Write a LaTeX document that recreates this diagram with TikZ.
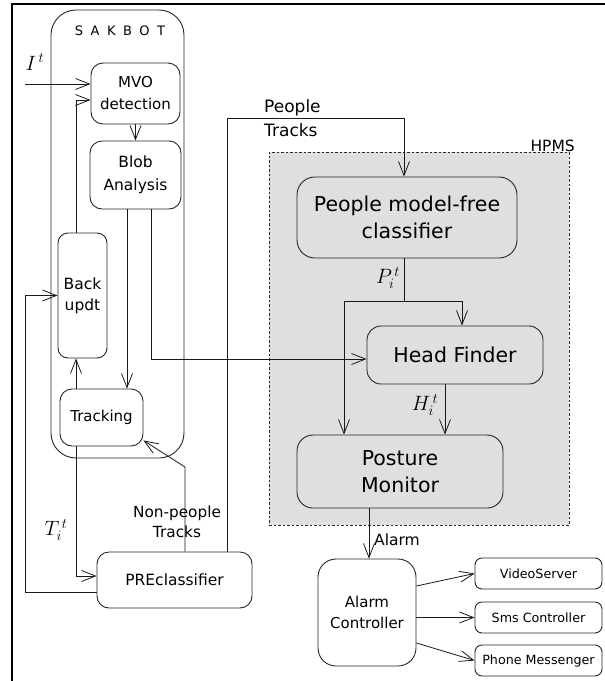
\documentclass[tikz,border=0pt]{standalone}
\usepackage{fontspec}
\setmainfont{DejaVu Sans}
\usetikzlibrary{arrows.meta}
\definecolor{hpgray}{HTML}{DFDFDF}
\tikzset{
  blk/.style={draw=black!85, line width=0.9pt, rounded corners=12pt, align=center,
              inner sep=0pt, fill=white},
  hblk/.style={blk, fill=hpgray, rounded corners=16pt},
  sblk/.style={blk, rounded corners=7pt, minimum width=127, minimum height=31,
               font=\fontsize{12.7}{15}\selectfont},
  wire/.style={line width=0.8pt, draw=black!90},
  arr/.style={wire, -{Straight Barb[length=14pt,width=11pt,line width=0.8pt]}},
  lbl/.style={inner sep=0pt, align=center},
  mlbl/.style={inner sep=0pt, font=\fontsize{20}{20}\selectfont},
  fS/.style={font=\fontsize{15}{22}\selectfont},
  fH/.style={font=\fontsize{20.5}{27}\selectfont},
}
\begin{document}
\begin{tikzpicture}[x=1pt,y=-1pt]
\useasboundingbox (0,0) rectangle (605,681);

% frame (top and left edges)
\draw[line width=2.2pt] (605,4) -- (12,4) -- (12,681);

% group containers
\node[draw=black!85, line width=0.9pt, rounded corners=25pt, minimum width=133,
      minimum height=448, inner sep=0pt] (sakbot) at (117.5,234) {};
\node[lbl, font=\fontsize{13}{13}\selectfont] (sakbotlbl) at (120,31)
  {S\hspace{7.5pt}A\hspace{7.5pt}K\hspace{7.5pt}B\hspace{7.5pt}O\hspace{7.5pt}T};
\node[draw=black!85, dash pattern=on 2.5pt off 2pt, line width=0.8pt, fill=hpgray,
      minimum width=300, minimum height=373, inner sep=0pt] (hpms) at (419,338.5) {};
\node[lbl, anchor=base east, font=\fontsize{15.5}{15.5}\selectfont] (hpmslbl) at (575,151) {HPMS};

% SAKBOT blocks
\node[blk, fS, minimum width=89, minimum height=61] (mvo) at (135.5,93.5) {MVO\\detection};
\node[blk, fS, minimum width=91, minimum height=68, font=\fontsize{15.5}{23}\selectfont] (blob) at (135.5,175) {Blob\\Analysis};
\node[blk, fS, rounded corners=10pt, minimum width=49, minimum height=125,
      font=\fontsize{15.5}{21}\selectfont] (back) at (82.5,295.5) {Back\\updt};
\node[blk, fS, minimum width=83, minimum height=57] (track) at (101.5,417.5) {Tracking};
\node[blk, minimum width=155, minimum height=56, font=\fontsize{15.5}{20}\selectfont] (pre) at (174.5,580) {PREclassifier};

% HPMS blocks
\node[hblk, fH, rounded corners=18pt, minimum width=220, minimum height=81] (pmf) at (407,217.5) {People model-free\\classifier};
\node[hblk, fH, rounded corners=14pt, minimum width=176, minimum height=58] (head) at (455,355) {Head Finder};
\node[hblk, fH, minimum width=206, minimum height=73] (post) at (400,471.5) {Posture\\Monitor};

% alarm side
\node[blk, rounded corners=18pt, minimum width=98, minimum height=107,
      font=\fontsize{15}{21}\selectfont] (alarm) at (367,612.5) {Alarm\\Controller};
\node[sblk] (video) at (538.5,573.5) {VideoServer};
\node[sblk] (sms) at (538.5,617.5) {Sms Controller};
\node[sblk] (phone) at (538.5,660.5) {Phone Messenger};

% route helpers
\coordinate (iin) at (25,84);
\coordinate (bx) at (76,0);
\coordinate (tx) at (127,0);
\coordinate (hx) at (151,0);
\coordinate (np) at (185,467);
\coordinate (ptx) at (227,0);
\coordinate (ptop) at (404,118);
\coordinate (split) at (404,301);
\coordinate (plx) at (344,0);
\coordinate (prx) at (462,0);
\coordinate (hpx) at (445,0);
\coordinate (alx) at (369,0);

% SAKBOT wiring
\draw[arr] (iin) -- (iin -| mvo.west);
\draw[arr] (back.north -| bx) |- ([yshift=-6.5pt]mvo.west);
\draw[arr] (mvo.south) -- (blob.north);
\draw[arr] (blob.south -| tx) -- (track.north -| tx);
\draw[arr] (blob.south -| hx) |- ([yshift=-4pt]head.west);
\draw[arr] (track.north -| bx) -- (back.south -| bx);
\draw[arr] (track.south -| bx) |- ([yshift=4pt]pre.west);
\draw[arr] ([yshift=-12pt]pre.west) -- ++(-71,0) |- (back.west);
\draw[arr] (pre.north -| np) -- (np) -- ([yshift=6pt]track.south east);
\draw[arr] (pre.north -| ptx) |- (ptop) -- (pmf.north -| ptop);

% HPMS wiring
\draw[wire] (pmf.south -| split) -- (split);
\draw[arr] (split) -| (head.north -| prx);
\draw[arr] (split) -| (post.north -| plx);
\draw[arr] (head.south -| hpx) -- (post.north -| hpx);
\draw[arr] (post.south -| alx) -- (alarm.north -| alx);

% alarm outputs
\draw[arr] ([yshift=26.5pt]alarm.east) -- (video.west);
\draw[arr] (alarm.east |- sms.west) -- (sms.west);
\draw[arr] ([yshift=-30.5pt]alarm.east) -- (phone.west);

% labels
\node[mlbl] (lI) at (35,62) {$I^{\,t}$};
\node[mlbl] (lT) at (56,530) {$T_i^{\,t}$};
\node[mlbl] (lP) at (388,278) {$P_i^{\,t}$};
\node[mlbl] (lH) at (425,405) {$H_i^{\,t}$};
\node[lbl, font=\fontsize{15.3}{20}\selectfont] (lnp) at (177,522) {Non-people\\Tracks};
\node[lbl, anchor=west, align=left, font=\fontsize{17}{24}\selectfont] (lpt) at (264,118) {People\\Tracks};
\node[lbl, anchor=base west, font=\fontsize{15.5}{15.5}\selectfont] (lal) at (374,545) {Alarm};
\end{tikzpicture}
\end{document}
